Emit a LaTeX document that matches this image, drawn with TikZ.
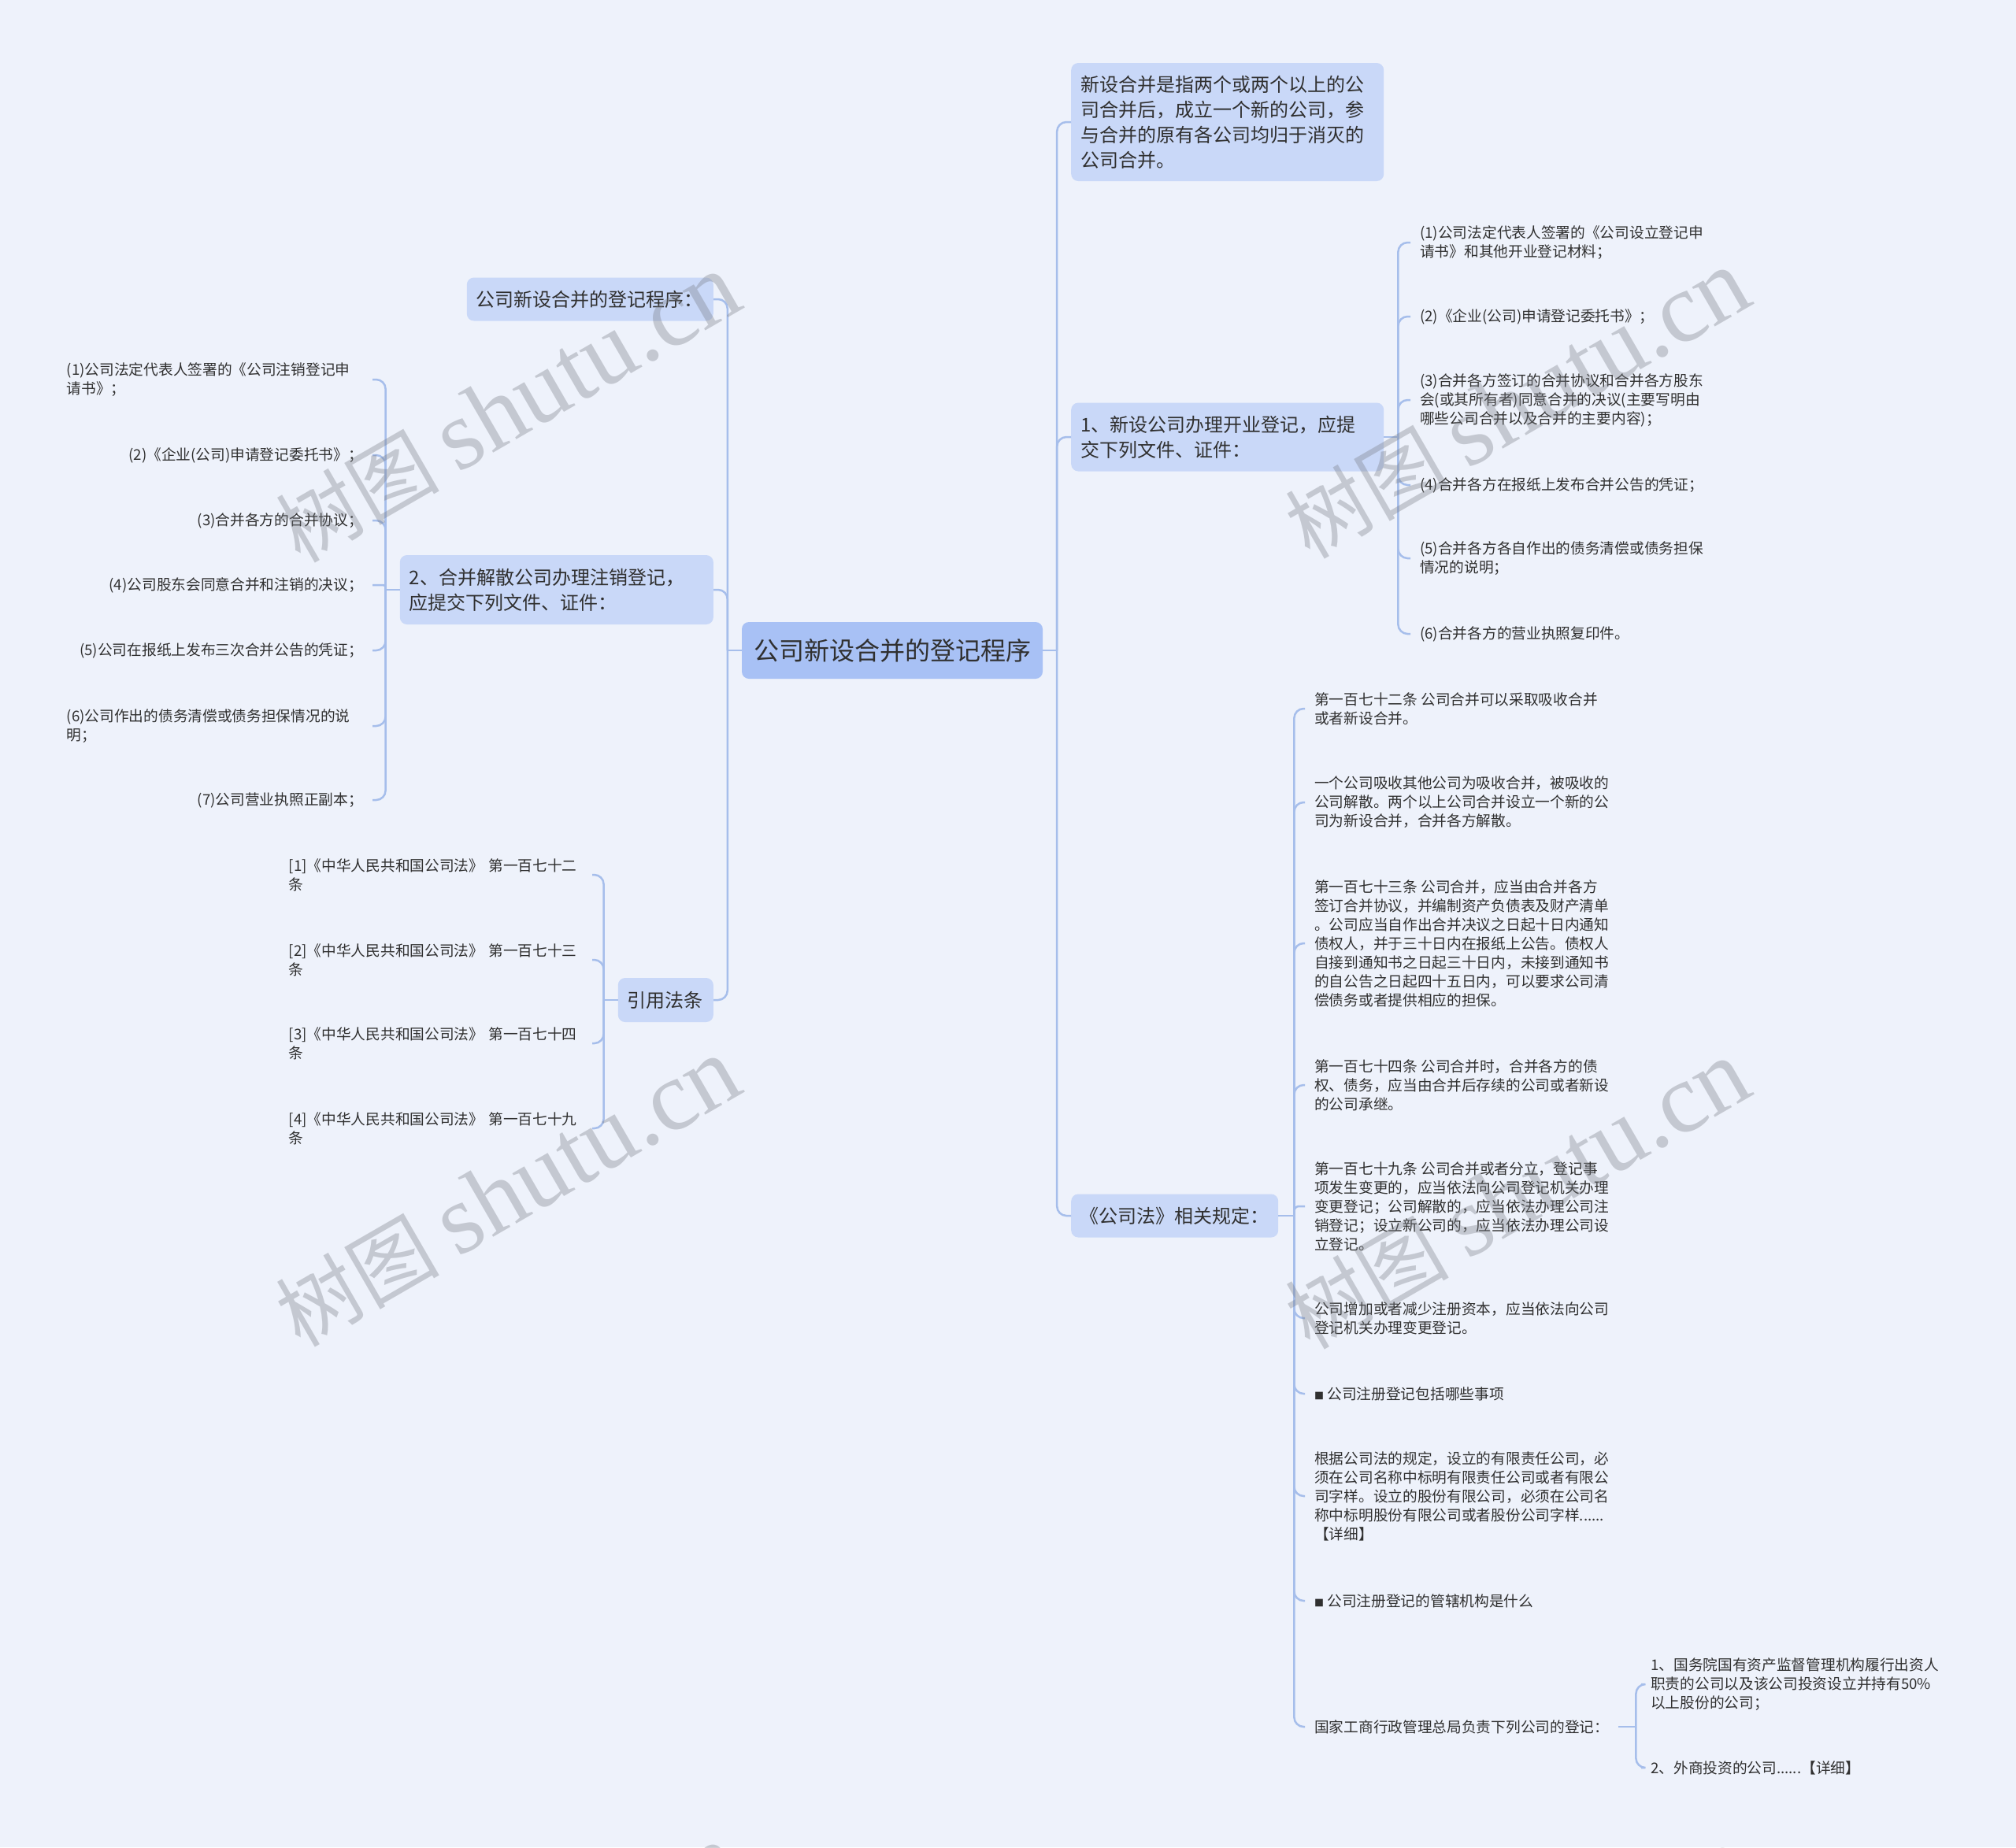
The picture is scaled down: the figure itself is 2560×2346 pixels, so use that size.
\documentclass[tikz,border=0pt]{standalone}
\usepackage{fontspec}
\setmainfont{Noto Sans CJK SC}
\newfontfamily\wmserif{Liberation Serif}
\definecolor{bgc}{HTML}{EEF2FB}
\definecolor{boxfill}{HTML}{C9D8F8}
\definecolor{rootfill}{HTML}{A8C1F5}
\definecolor{linec}{HTML}{A6BEEB}
\definecolor{txt}{HTML}{303030}
\definecolor{wmc}{RGB}{120,124,132}
\tikzset{
  rootnode/.style={fill=rootfill, rounded corners=9, text=txt, font=\fontsize{32}{40}\selectfont, minimum width=382, minimum height=72, inner sep=0},
  boxnode/.style={fill=boxfill, rounded corners=9, text=txt, font=\fontsize{24}{32}\selectfont, align=left, inner xsep=12, inner ysep=0},
  leafnode/.style={text=txt, font=\fontsize{18.7}{24}\selectfont, align=left, inner xsep=12, inner ysep=2},
  leftleaf/.style={leafnode, inner xsep=12},
  conn/.style={draw=linec, line width=2.5, rounded corners=12},
  wm/.style={text=wmc, opacity=0.35, rotate=30, font=\fontsize{104}{104}\selectfont}
}
\newcommand{\wmtext}{树图 {\wmserif\fontsize{126}{126}\selectfont shutu.cn}}
\begin{document}
\begin{tikzpicture}[x=1pt,y=-1pt]
\fill[bgc] (0,0) rectangle (2560,2346);
\useasboundingbox (0,0) rectangle (2560,2346);

% root
\node[rootnode] (root) at (1133,826) {公司新设合并的登记程序};

% right level 1
\node[boxnode, anchor=west, text width=373, minimum height=150] (r1) at (1360,155) {新设合并是指两个或两个以上的公\\司合并后，成立一个新的公司，参\\与合并的原有各公司均归于消灭的\\公司合并。};
\node[boxnode, anchor=west, text width=373, minimum height=87] (r2) at (1360,555) {1、新设公司办理开业登记，应提\\交下列文件、证件：};
\node[boxnode, anchor=west, text width=241, inner xsep=11, minimum height=55] (r3) at (1360,1544) {《公司法》相关规定：};

% left level 1
\node[boxnode, anchor=east, text width=289, minimum height=55] (l1) at (906,380) {公司新设合并的登记程序：};
\node[boxnode, anchor=east, text width=374, minimum height=88] (l2) at (906,749) {2、合并解散公司办理注销登记，\\应提交下列文件、证件：};
\node[boxnode, anchor=east, text width=97, minimum height=56] (l3) at (906,1270) {引用法条};

% r2 children
\node[leafnode, anchor=west] (a1) at (1791,308) {(1)公司法定代表人签署的《公司设立登记申\\请书》和其他开业登记材料；};
\node[leafnode, anchor=west] (a2) at (1791,402) {(2)《企业(公司)申请登记委托书》；};
\node[leafnode, anchor=west] (a3) at (1791,508) {(3)合并各方签订的合并协议和合并各方股东\\会(或其所有者)同意合并的决议(主要写明由\\哪些公司合并以及合并的主要内容)；};
\node[leafnode, anchor=west] (a4) at (1791,616) {(4)合并各方在报纸上发布合并公告的凭证；};
\node[leafnode, anchor=west] (a5) at (1791,709) {(5)合并各方各自作出的债务清偿或债务担保\\情况的说明；};
\node[leafnode, anchor=west] (a6) at (1791,805) {(6)合并各方的营业执照复印件。};

% r3 children
\node[leafnode, anchor=west] (b1) at (1657,900) {第一百七十二条 公司合并可以采取吸收合并\\或者新设合并。};
\node[leafnode, anchor=west] (b2) at (1657,1019) {一个公司吸收其他公司为吸收合并，被吸收的\\公司解散。两个以上公司合并设立一个新的公\\司为新设合并，合并各方解散。};
\node[leafnode, anchor=west] (b3) at (1657,1198) {第一百七十三条 公司合并，应当由合并各方\\签订合并协议，并编制资产负债表及财产清单\\。公司应当自作出合并决议之日起十日内通知\\债权人，并于三十日内在报纸上公告。债权人\\自接到通知书之日起三十日内，未接到通知书\\的自公告之日起四十五日内，可以要求公司清\\偿债务或者提供相应的担保。};
\node[leafnode, anchor=west] (b4) at (1657,1378) {第一百七十四条 公司合并时，合并各方的债\\权、债务，应当由合并后存续的公司或者新设\\的公司承继。};
\node[leafnode, anchor=west] (b5) at (1657,1532) {第一百七十九条 公司合并或者分立，登记事\\项发生变更的，应当依法向公司登记机关办理\\变更登记；公司解散的，应当依法办理公司注\\销登记；设立新公司的，应当依法办理公司设\\立登记。};
\node[leafnode, anchor=west] (b6) at (1657,1674) {公司增加或者减少注册资本，应当依法向公司\\登记机关办理变更登记。};
\node[leafnode, anchor=west] (b7) at (1657,1770) {{\fontsize{12}{12}\selectfont ■} 公司注册登记包括哪些事项};
\node[leafnode, anchor=west] (b8) at (1657,1900) {根据公司法的规定，设立的有限责任公司，必\\须在公司名称中标明有限责任公司或者有限公\\司字样。设立的股份有限公司，必须在公司名\\称中标明股份有限公司或者股份公司字样......\\【详细】};
\node[leafnode, anchor=west] (b9) at (1657,2033) {{\fontsize{12}{12}\selectfont ■} 公司注册登记的管辖机构是什么};
\node[leafnode, anchor=west] (b10) at (1657,2193) {国家工商行政管理总局负责下列公司的登记：};

% b10 children
\node[leafnode, anchor=west] (c1) at (2084,2139) {1、国务院国有资产监督管理机构履行出资人\\职责的公司以及该公司投资设立并持有50\%\\以上股份的公司；};
\node[leafnode, anchor=west] (c2) at (2084,2245) {2、外商投资的公司......【详细】};

% l2 children
\node[leftleaf, anchor=east, text width=376] (d1) at (473,482) {(1)公司法定代表人签署的《公司注销登记申\\请书》；};
\node[leftleaf, anchor=east] (d2) at (473,578) {(2)《企业(公司)申请登记委托书》；};
\node[leftleaf, anchor=east] (d3) at (473,661) {(3)合并各方的合并协议；};
\node[leftleaf, anchor=east] (d4) at (473,743) {(4)公司股东会同意合并和注销的决议；};
\node[leftleaf, anchor=east] (d5) at (473,826) {(5)公司在报纸上发布三次合并公告的凭证；};
\node[leftleaf, anchor=east, text width=376] (d6) at (473,922) {(6)公司作出的债务清偿或债务担保情况的说\\明；};
\node[leftleaf, anchor=east] (d7) at (473,1016) {(7)公司营业执照正副本；};

% l3 children
\node[leftleaf, anchor=east, text width=370, inner xsep=15] (e1) at (752,1111) {[1]《中华人民共和国公司法》 第一百七十二\\条};
\node[leftleaf, anchor=east, text width=370, inner xsep=15] (e2) at (752,1219) {[2]《中华人民共和国公司法》 第一百七十三\\条};
\node[leftleaf, anchor=east, text width=370, inner xsep=15] (e3) at (752,1325) {[3]《中华人民共和国公司法》 第一百七十四\\条};
\node[leftleaf, anchor=east, text width=370, inner xsep=15] (e4) at (752,1433) {[4]《中华人民共和国公司法》 第一百七十九\\条};

% connectors root
\coordinate (jr) at ([xshift=18pt]root.east);
\coordinate (jl) at ([xshift=-18pt]root.west);
\draw[conn] (root.east) -- (jr);
\draw[conn] (root.west) -- (jl);
\foreach \n in {r1,r2,r3} \draw[conn] (jr) |- (\n.west);
\foreach \n in {l1,l2,l3} \draw[conn] (jl) |- (\n.east);

% r2
\coordinate (ja) at ([xshift=18pt]r2.east);
\draw[conn] (r2.east) -- (ja);
\foreach \n in {a1,a2,a3,a4,a5,a6} \draw[conn] (ja) |- (\n.west);

% r3
\coordinate (jb) at ([xshift=20pt]r3.east);
\draw[conn] (r3.east) -- (jb);
\foreach \n in {b1,b2,b3,b4,b6,b7,b8,b9,b10} \draw[conn] (jb) |- (\n.west);
\draw[conn, rounded corners=6] (jb) |- (b5.west);

% b10
\coordinate (jc) at ([xshift=22pt]b10.east);
\draw[conn] (b10.east) -- (jc);
\foreach \n in {c1,c2} \draw[conn] (jc) |- (\n.west);

% l2
\coordinate (jd) at ([xshift=-18pt]l2.west);
\draw[conn] (l2.west) -- (jd);
\foreach \n in {d1,d2,d3,d5,d6,d7} \draw[conn] (jd) |- (\n.east);
\draw[conn, rounded corners=3] (jd) |- (d4.east);

% l3
\coordinate (je) at ([xshift=-18pt]l3.west);
\draw[conn] (l3.west) -- (je);
\foreach \n in {e1,e2,e3,e4} \draw[conn] (je) |- (\n.east);

% watermarks
\begin{scope}
\clip (0,0) rectangle (2560,2346);
\node[wm] (w1) at (645,519) {\wmtext};
\node[wm] (w2) at (1927,514) {\wmtext};
\node[wm] (w3) at (645,1515) {\wmtext};
\node[wm] (w4) at (1927,1518) {\wmtext};
\node[wm] (w5) at (645,2514) {\wmtext};
\node[wm] (w6) at (1927,2518) {\wmtext};
\end{scope}
\end{tikzpicture}
\end{document}
